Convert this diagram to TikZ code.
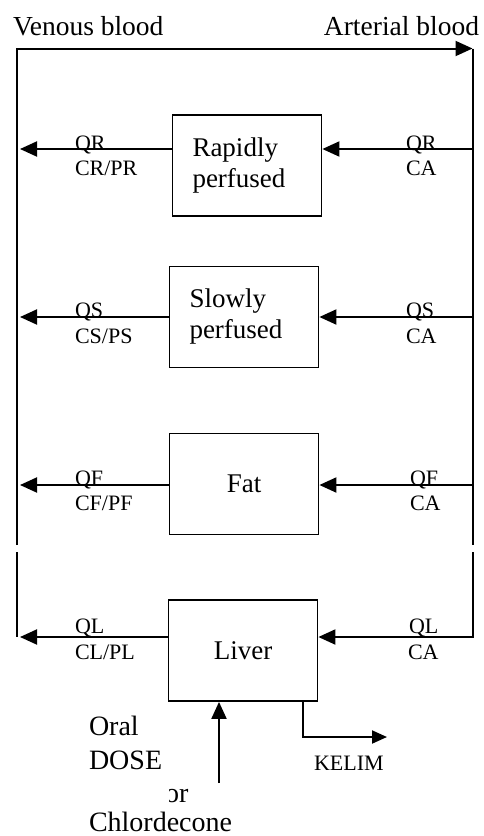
\documentclass[tikz,border=0pt]{standalone}
\usepackage{fontspec}
\setmainfont{Liberation Serif}
\usetikzlibrary{arrows.meta}
\begin{document}
\begin{tikzpicture}[x=1pt,y=-1pt,
  line width=2pt,
  flow/.style={-{Triangle[length=17pt,width=15pt]}},
  organ/.style={draw, line width=1.8pt, minimum width=149pt, minimum height=101pt,
    inner sep=0pt, font=\fontsize{27}{31}\selectfont},
  lbl/.style={anchor=base west, inner sep=0pt, font=\fontsize{22}{22}\selectfont},
  head/.style={anchor=base west, inner sep=0pt, font=\fontsize{27.5}{27.5}\selectfont}]
\useasboundingbox (0,0) rectangle (483,836);

% compartments
\node[organ, text width=109pt, align=left, inner xsep=20pt] (rapid) at (247,165.5) {Rapidly\\perfused};
\node[organ, text width=109pt, align=left, inner xsep=20pt] (slow) at (244,317) {Slowly\\perfused};
\node[organ] (fat) at (244,484) {Fat};
\node[organ] (liver) at (243,650.5) {Liver};

% circulation loop
\coordinate (ltop) at (17,48.5);
\coordinate (rtop) at (472.5,48.5);
\coordinate (lgapA) at (17,545);
\coordinate (lgapB) at (17,552);
\coordinate (lbot) at (17,637);
\coordinate (rgapA) at (472.5,545);
\coordinate (rgapB) at (472.5,552);
\coordinate (rbot) at (472.5,637);

\draw[flow] (lgapA) -- (ltop) -- (rtop);
\draw (rtop) -- (rgapA);
\draw (lgapB) -- (lbot);

% flows into and out of each compartment
\coordinate (rR) at (472.5,149);  \coordinate (lR) at (20,149);
\coordinate (rS) at (472.5,317);  \coordinate (lS) at (20,317);
\coordinate (rF) at (472.5,485);  \coordinate (lF) at (20,485);
\coordinate (lL) at (20,637);

\draw[flow] (rR) -- (rR -| rapid.east);
\draw[flow] (rR -| rapid.west) -- (lR);
\draw[flow] (rS) -- (rS -| slow.east);
\draw[flow] (rS -| slow.west) -- (lS);
\draw[flow] (rF) -- (rF -| fat.east);
\draw[flow] (rF -| fat.west) -- (lF);
\draw[flow] (rgapB) -- (rbot) -- (rbot -| liver.east);
\draw[flow] (lL -| liver.west) -- (lL);

% oral dose and elimination
\coordinate (dosetail) at (219,783);
\draw[flow] (dosetail) -- (dosetail |- liver.south);
\coordinate (kbend) at (303,737);
\coordinate (kend) at (387,737);
\draw[-{Triangle[length=15pt,width=13pt]}] (kbend |- liver.south) -- (kbend) -- (kend);

% flow labels
\node[lbl] (qrl) at (74,150) {QR};
\node[lbl] (crl) at (74,175) {CR/PR};
\node[lbl] (qrr) at (405,150) {QR};
\node[lbl] (car) at (405,175) {CA};
\node[lbl] (qsl) at (74,317) {QS};
\node[lbl] (csl) at (74,343) {CS/PS};
\node[lbl] (qsr) at (405,317) {QS};
\node[lbl] (csr) at (405,343) {CA};
\node[lbl] (qfl) at (74,485) {QF};
\node[lbl] (cfl) at (74,510) {CF/PF};
\node[lbl] (qfr) at (409,485) {QF};
\node[lbl] (cfr) at (409,510) {CA};
\node[lbl] (qll) at (74,633) {QL};
\node[lbl] (cll) at (74,659) {CL/PL};
\node[lbl] (qlr) at (408,633) {QL};
\node[lbl] (clr) at (407,659) {CA};
\node[lbl] (kelim) at (313,770) {KELIM};

% headings
\node[head] (venous) at (12,35) {Venous blood};
\node[head, anchor=base east] (arterial) at (480,35) {Arterial blood};

% dose text
\node[head, font=\fontsize{28}{28}\selectfont] (oral) at (88,735) {Oral};
\node[head, font=\fontsize{28}{28}\selectfont] (dose) at (88,769) {DOSE};
\begin{scope}
  \clip (169,775) rectangle (200,810);
  \node[head, font=\fontsize{28}{28}\selectfont] (orword) at (164,802) {or};
\end{scope}
\node[head, font=\fontsize{28}{28}\selectfont] (chlor) at (88,831) {Chlordecone};
\end{tikzpicture}
\end{document}
